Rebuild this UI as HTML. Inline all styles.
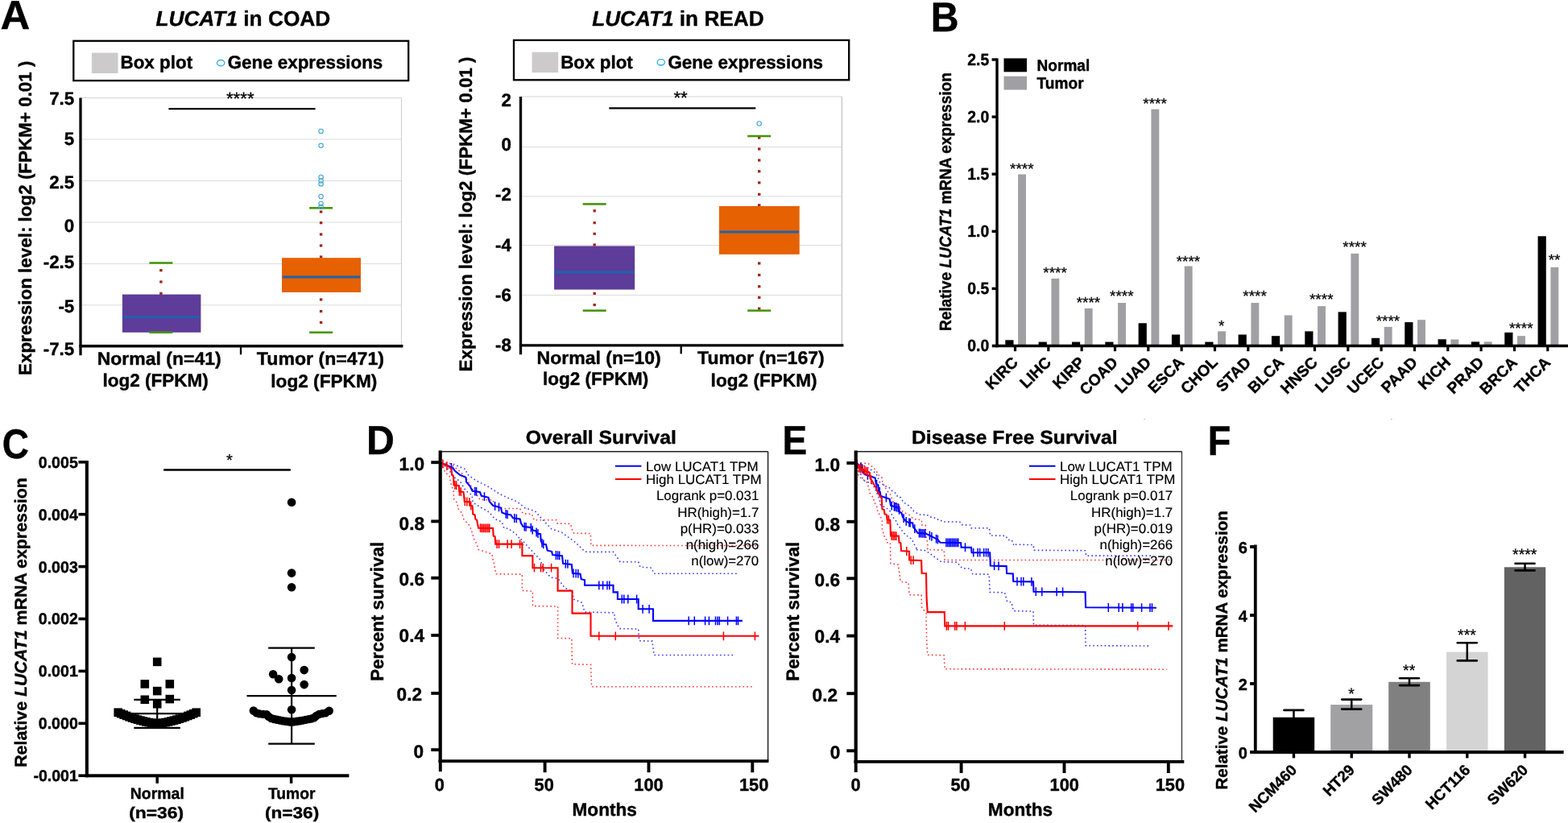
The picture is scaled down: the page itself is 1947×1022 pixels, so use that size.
<!DOCTYPE html>
<html lang="en">
<head>
<meta charset="utf-8">
<title>LUCAT1 expression figure</title>
<style>
html,body{margin:0;padding:0;background:#fff;}
body{width:1947px;height:1022px;overflow:hidden;}
svg{display:block;font-family:'Liberation Sans', sans-serif;}
text{white-space:pre;text-rendering:geometricPrecision;}
</style>
</head>
<body>
<svg role="img" aria-label="LUCAT1 expression and survival figure, panels A to F" width="1947" height="1022" viewBox="0 0 1947 1022">
<rect width="1947" height="1022" fill="#fff"/>
<text x="0.53" y="36.20" font-size="50.6" stroke="#000" stroke-width="0.4" stroke-linejoin="round" font-weight="bold" textLength="36.76" lengthAdjust="spacingAndGlyphs">A</text>
<g aria-label="LUCAT1 in COAD">
<text x="193.40" y="32.30" font-size="26.3" stroke="#000" stroke-width="0.4" stroke-linejoin="round" font-weight="bold" textLength="216.90" lengthAdjust="spacingAndGlyphs"><tspan font-style="italic">LUCAT1</tspan> in COAD</text>
<rect x="91.30" y="50.80" width="415.90" height="49.30" fill="#fff" stroke="#000" stroke-width="2.3"/>
<rect x="113.90" y="65.60" width="32.60" height="25.40" fill="#cccacb"/>
<text x="149.50" y="85.40" font-size="22.6" stroke="#000" stroke-width="0.4" stroke-linejoin="round" font-weight="bold" textLength="89.60" lengthAdjust="spacingAndGlyphs">Box plot</text>
<ellipse cx="274.10" cy="78.20" rx="4.7" ry="3.7" fill="none" stroke="#2bb0ee" stroke-width="1.3"/>
<text x="282.70" y="85.40" font-size="22.6" stroke="#000" stroke-width="0.4" stroke-linejoin="round" font-weight="bold" textLength="192.60" lengthAdjust="spacingAndGlyphs">Gene expressions</text>
<line x1="100.00" y1="173.00" x2="498.40" y2="173.00" stroke="#dcdcdc" stroke-width="1"/>
<line x1="100.00" y1="224.50" x2="498.40" y2="224.50" stroke="#dcdcdc" stroke-width="1"/>
<line x1="100.00" y1="276.00" x2="498.40" y2="276.00" stroke="#dcdcdc" stroke-width="1"/>
<line x1="100.00" y1="327.60" x2="498.40" y2="327.60" stroke="#dcdcdc" stroke-width="1"/>
<line x1="100.00" y1="378.90" x2="498.40" y2="378.90" stroke="#dcdcdc" stroke-width="1"/>
<line x1="498.40" y1="121.50" x2="498.40" y2="429.80" stroke="#cbccd3" stroke-width="1.0"/>
<line x1="100.00" y1="121.50" x2="498.40" y2="121.50" stroke="#d4d4d4" stroke-width="1"/>
<rect x="198.20" y="334.10" width="3.40" height="3.20" fill="#a42412"/>
<rect x="198.20" y="348.40" width="3.40" height="3.20" fill="#a42412"/>
<rect x="198.20" y="362.80" width="3.40" height="3.20" fill="#a42412"/>
<rect x="151.90" y="365.60" width="97.50" height="47.20" fill="#5e3c99"/>
<line x1="152.70" y1="393.80" x2="248.60" y2="393.80" stroke="#1c64ae" stroke-width="2.8"/>
<line x1="185.40" y1="326.50" x2="214.40" y2="326.50" stroke="#479509" stroke-width="2.6"/>
<line x1="185.40" y1="412.80" x2="214.40" y2="412.80" stroke="#479509" stroke-width="2.6"/>
<rect x="396.90" y="261.40" width="3.40" height="3.20" fill="#a42412"/>
<rect x="396.90" y="275.10" width="3.40" height="3.20" fill="#a42412"/>
<rect x="396.90" y="289.40" width="3.40" height="3.20" fill="#a42412"/>
<rect x="396.90" y="303.40" width="3.40" height="3.20" fill="#a42412"/>
<rect x="396.90" y="317.40" width="3.40" height="3.20" fill="#a42412"/>
<rect x="396.90" y="370.40" width="3.40" height="3.20" fill="#a42412"/>
<rect x="396.90" y="385.00" width="3.40" height="3.20" fill="#a42412"/>
<rect x="396.90" y="398.80" width="3.40" height="3.20" fill="#a42412"/>
<rect x="350.00" y="320.20" width="98.00" height="42.80" fill="#e66101"/>
<line x1="350.80" y1="344.00" x2="447.20" y2="344.00" stroke="#1c64ae" stroke-width="2.8"/>
<line x1="384.10" y1="258.30" x2="413.10" y2="258.30" stroke="#479509" stroke-width="2.6"/>
<line x1="384.10" y1="412.80" x2="413.10" y2="412.80" stroke="#479509" stroke-width="2.6"/>
<circle cx="398.60" cy="162.90" r="2.7" fill="none" stroke="#3fa4d6" stroke-width="1.1"/>
<circle cx="398.60" cy="180.80" r="2.7" fill="none" stroke="#3fa4d6" stroke-width="1.1"/>
<circle cx="398.60" cy="220.00" r="2.7" fill="none" stroke="#3fa4d6" stroke-width="1.1"/>
<circle cx="398.60" cy="224.50" r="2.7" fill="none" stroke="#3fa4d6" stroke-width="1.1"/>
<circle cx="398.60" cy="228.40" r="2.7" fill="none" stroke="#3fa4d6" stroke-width="1.1"/>
<circle cx="398.60" cy="243.90" r="2.7" fill="none" stroke="#3fa4d6" stroke-width="1.1"/>
<circle cx="398.60" cy="253.00" r="2.7" fill="none" stroke="#3fa4d6" stroke-width="1.1"/>
<circle cx="398.60" cy="256.80" r="2.7" fill="none" stroke="#3fa4d6" stroke-width="1.1"/>
<line x1="100.00" y1="121.50" x2="100.00" y2="441.20" stroke="#000" stroke-width="3.3"/>
<line x1="98.40" y1="429.80" x2="500.40" y2="429.80" stroke="#000" stroke-width="3.4"/>
<line x1="299.00" y1="429.80" x2="299.00" y2="440.30" stroke="#000" stroke-width="2.3"/>
<text x="92.30" y="130.40" font-size="22.4" stroke="#000" stroke-width="0.4" stroke-linejoin="round" font-weight="bold" text-anchor="end">7.5</text>
<text x="92.30" y="180.40" font-size="22.4" stroke="#000" stroke-width="0.4" stroke-linejoin="round" font-weight="bold" text-anchor="end">5</text>
<text x="92.30" y="234.00" font-size="22.4" stroke="#000" stroke-width="0.4" stroke-linejoin="round" font-weight="bold" text-anchor="end">2.5</text>
<text x="92.30" y="287.60" font-size="22.4" stroke="#000" stroke-width="0.4" stroke-linejoin="round" font-weight="bold" text-anchor="end">0</text>
<text x="92.30" y="332.50" font-size="22.4" stroke="#000" stroke-width="0.4" stroke-linejoin="round" font-weight="bold" text-anchor="end">-2.5</text>
<text x="92.30" y="388.30" font-size="22.4" stroke="#000" stroke-width="0.4" stroke-linejoin="round" font-weight="bold" text-anchor="end">-5</text>
<text x="92.30" y="440.90" font-size="22.4" stroke="#000" stroke-width="0.4" stroke-linejoin="round" font-weight="bold" text-anchor="end">-7.5</text>
<line x1="209.40" y1="135.20" x2="391.50" y2="135.20" stroke="#000" stroke-width="2.2"/>
<text x="298.25" y="129.50" font-size="22.3" stroke="#000" stroke-width="0.3" stroke-linejoin="round" text-anchor="middle">****</text>
<text x="39.30" y="466.00" font-size="22.4" stroke="#000" stroke-width="0.4" stroke-linejoin="round" font-weight="bold" transform="rotate(-90 39.30 466.00)" textLength="390.50" lengthAdjust="spacingAndGlyphs">Expression level: log2 (FPKM+ 0.01 )</text>
<text x="120.71" y="453.10" font-size="22.5" stroke="#000" stroke-width="0.4" stroke-linejoin="round" font-weight="bold" textLength="153.96" lengthAdjust="spacingAndGlyphs">Normal (n=41)</text>
<text x="127.42" y="479.80" font-size="22.5" stroke="#000" stroke-width="0.4" stroke-linejoin="round" font-weight="bold" textLength="131.45" lengthAdjust="spacingAndGlyphs">log2 (FPKM)</text>
<text x="318.87" y="452.80" font-size="22.5" stroke="#000" stroke-width="0.4" stroke-linejoin="round" font-weight="bold" textLength="158.16" lengthAdjust="spacingAndGlyphs">Tumor (n=471)</text>
<text x="336.32" y="481.00" font-size="22.5" stroke="#000" stroke-width="0.4" stroke-linejoin="round" font-weight="bold" textLength="131.96" lengthAdjust="spacingAndGlyphs">log2 (FPKM)</text>
</g>
<g aria-label="LUCAT1 in READ">
<text x="735.20" y="32.30" font-size="26.3" stroke="#000" stroke-width="0.4" stroke-linejoin="round" font-weight="bold" textLength="213.40" lengthAdjust="spacingAndGlyphs"><tspan font-style="italic">LUCAT1</tspan> in READ</text>
<rect x="638.00" y="49.90" width="416.20" height="49.40" fill="#fff" stroke="#000" stroke-width="2.3"/>
<rect x="660.60" y="64.70" width="32.60" height="25.40" fill="#cccacb"/>
<text x="696.20" y="84.50" font-size="22.6" stroke="#000" stroke-width="0.4" stroke-linejoin="round" font-weight="bold" textLength="89.60" lengthAdjust="spacingAndGlyphs">Box plot</text>
<ellipse cx="820.80" cy="77.30" rx="4.7" ry="3.7" fill="none" stroke="#2bb0ee" stroke-width="1.3"/>
<text x="829.40" y="84.50" font-size="22.6" stroke="#000" stroke-width="0.4" stroke-linejoin="round" font-weight="bold" textLength="192.60" lengthAdjust="spacingAndGlyphs">Gene expressions</text>
<line x1="646.50" y1="182.60" x2="1045.40" y2="182.60" stroke="#dcdcdc" stroke-width="1"/>
<line x1="646.50" y1="243.90" x2="1045.40" y2="243.90" stroke="#dcdcdc" stroke-width="1"/>
<line x1="646.50" y1="304.60" x2="1045.40" y2="304.60" stroke="#dcdcdc" stroke-width="1"/>
<line x1="646.50" y1="366.50" x2="1045.40" y2="366.50" stroke="#dcdcdc" stroke-width="1"/>
<line x1="1045.40" y1="120.00" x2="1045.40" y2="428.90" stroke="#cbccd3" stroke-width="1.6"/>
<line x1="646.50" y1="120.00" x2="1045.40" y2="120.00" stroke="#d4d4d4" stroke-width="1"/>
<rect x="736.50" y="260.20" width="3.40" height="3.20" fill="#a42412"/>
<rect x="736.50" y="275.10" width="3.40" height="3.20" fill="#a42412"/>
<rect x="736.50" y="288.70" width="3.40" height="3.20" fill="#a42412"/>
<rect x="736.50" y="302.40" width="3.40" height="3.20" fill="#a42412"/>
<rect x="736.50" y="362.90" width="3.40" height="3.20" fill="#a42412"/>
<rect x="736.50" y="377.00" width="3.40" height="3.20" fill="#a42412"/>
<rect x="688.10" y="305.50" width="100.10" height="54.10" fill="#5e3c99"/>
<line x1="688.90" y1="338.00" x2="787.40" y2="338.00" stroke="#1c64ae" stroke-width="2.8"/>
<line x1="723.70" y1="253.40" x2="752.70" y2="253.40" stroke="#479509" stroke-width="2.6"/>
<line x1="723.70" y1="385.70" x2="752.70" y2="385.70" stroke="#479509" stroke-width="2.6"/>
<rect x="941.00" y="169.40" width="3.40" height="3.20" fill="#a42412"/>
<rect x="941.00" y="183.40" width="3.40" height="3.20" fill="#a42412"/>
<rect x="941.00" y="197.40" width="3.40" height="3.20" fill="#a42412"/>
<rect x="941.00" y="211.20" width="3.40" height="3.20" fill="#a42412"/>
<rect x="941.00" y="225.30" width="3.40" height="3.20" fill="#a42412"/>
<rect x="941.00" y="239.70" width="3.40" height="3.20" fill="#a42412"/>
<rect x="941.00" y="253.20" width="3.40" height="3.20" fill="#a42412"/>
<rect x="941.00" y="325.40" width="3.40" height="3.20" fill="#a42412"/>
<rect x="941.00" y="339.90" width="3.40" height="3.20" fill="#a42412"/>
<rect x="941.00" y="354.20" width="3.40" height="3.20" fill="#a42412"/>
<rect x="941.00" y="367.80" width="3.40" height="3.20" fill="#a42412"/>
<rect x="941.00" y="381.60" width="3.40" height="3.20" fill="#a42412"/>
<rect x="892.90" y="255.90" width="99.80" height="60.00" fill="#e66101"/>
<line x1="893.70" y1="288.00" x2="991.90" y2="288.00" stroke="#1c64ae" stroke-width="2.8"/>
<line x1="928.20" y1="169.00" x2="957.20" y2="169.00" stroke="#479509" stroke-width="2.6"/>
<line x1="928.20" y1="385.70" x2="957.20" y2="385.70" stroke="#479509" stroke-width="2.6"/>
<circle cx="942.70" cy="153.50" r="2.7" fill="none" stroke="#3fa4d6" stroke-width="1.1"/>
<line x1="646.50" y1="120.00" x2="646.50" y2="440.30" stroke="#000" stroke-width="3.3"/>
<line x1="644.90" y1="428.90" x2="1047.40" y2="428.90" stroke="#000" stroke-width="3.4"/>
<line x1="845.70" y1="428.90" x2="845.70" y2="439.40" stroke="#000" stroke-width="2.3"/>
<text x="635.00" y="131.80" font-size="22.4" stroke="#000" stroke-width="0.4" stroke-linejoin="round" font-weight="bold" text-anchor="end">2</text>
<text x="635.00" y="187.20" font-size="22.4" stroke="#000" stroke-width="0.4" stroke-linejoin="round" font-weight="bold" text-anchor="end">0</text>
<text x="635.00" y="248.80" font-size="22.4" stroke="#000" stroke-width="0.4" stroke-linejoin="round" font-weight="bold" text-anchor="end">-2</text>
<text x="635.00" y="311.90" font-size="22.4" stroke="#000" stroke-width="0.4" stroke-linejoin="round" font-weight="bold" text-anchor="end">-4</text>
<text x="635.00" y="373.50" font-size="22.4" stroke="#000" stroke-width="0.4" stroke-linejoin="round" font-weight="bold" text-anchor="end">-6</text>
<text x="635.00" y="436.00" font-size="22.4" stroke="#000" stroke-width="0.4" stroke-linejoin="round" font-weight="bold" text-anchor="end">-8</text>
<line x1="756.30" y1="134.40" x2="938.30" y2="134.40" stroke="#000" stroke-width="2.2"/>
<text x="845.10" y="128.70" font-size="22.3" stroke="#000" stroke-width="0.3" stroke-linejoin="round" text-anchor="middle">**</text>
<text x="586.50" y="461.40" font-size="22.4" stroke="#000" stroke-width="0.4" stroke-linejoin="round" font-weight="bold" transform="rotate(-90 586.50 461.40)" textLength="391.00" lengthAdjust="spacingAndGlyphs">Expression level: log2 (FPKM+ 0.01 )</text>
<text x="666.60" y="452.20" font-size="22.5" stroke="#000" stroke-width="0.4" stroke-linejoin="round" font-weight="bold" textLength="154.06" lengthAdjust="spacingAndGlyphs">Normal (n=10)</text>
<text x="673.92" y="478.40" font-size="22.5" stroke="#000" stroke-width="0.4" stroke-linejoin="round" font-weight="bold" textLength="131.45" lengthAdjust="spacingAndGlyphs">log2 (FPKM)</text>
<text x="866.07" y="451.80" font-size="22.5" stroke="#000" stroke-width="0.4" stroke-linejoin="round" font-weight="bold" textLength="157.66" lengthAdjust="spacingAndGlyphs">Tumor (n=167)</text>
<text x="882.62" y="480.10" font-size="22.5" stroke="#000" stroke-width="0.4" stroke-linejoin="round" font-weight="bold" textLength="131.96" lengthAdjust="spacingAndGlyphs">log2 (FPKM)</text>
</g>
<g aria-label="Panel B: relative LUCAT1 mRNA expression across cancers">
<text x="1155.77" y="38.60" font-size="51.5" stroke="#000" stroke-width="0.4" stroke-linejoin="round" font-weight="bold" textLength="34.81" lengthAdjust="spacingAndGlyphs">B</text>
<rect x="1246.50" y="72.40" width="28.50" height="16.90" fill="#000"/>
<rect x="1246.50" y="94.70" width="28.50" height="16.80" fill="#a09fa4"/>
<text x="1287.60" y="87.80" font-size="20" stroke="#000" stroke-width="0.4" stroke-linejoin="round" font-weight="bold" textLength="65.60" lengthAdjust="spacingAndGlyphs">Normal</text>
<text x="1287.60" y="109.60" font-size="20" stroke="#000" stroke-width="0.4" stroke-linejoin="round" font-weight="bold" textLength="58.00" lengthAdjust="spacingAndGlyphs">Tumor</text>
<rect x="1248.30" y="422.30" width="10.20" height="7.20" fill="#000"/>
<rect x="1264.10" y="216.50" width="9.90" height="213.00" fill="#a09fa4"/>
<line x1="1260.50" y1="429.50" x2="1260.50" y2="436.20" stroke="#000" stroke-width="3.2"/>
<text x="1268.80" y="215.50" font-size="19" stroke="#000" stroke-width="0.25" stroke-linejoin="round" text-anchor="middle">****</text>
<text x="1265.20" y="451.20" font-size="19.5" stroke="#000" stroke-width="0.4" stroke-linejoin="round" font-weight="bold" text-anchor="end" transform="rotate(-45 1265.20 451.20)">KIRC</text>
<rect x="1289.63" y="424.60" width="10.20" height="4.90" fill="#000"/>
<rect x="1305.43" y="345.90" width="9.90" height="83.60" fill="#a09fa4"/>
<line x1="1301.83" y1="429.50" x2="1301.83" y2="436.20" stroke="#000" stroke-width="3.2"/>
<text x="1310.13" y="344.60" font-size="19" stroke="#000" stroke-width="0.25" stroke-linejoin="round" text-anchor="middle">****</text>
<text x="1306.53" y="451.20" font-size="19.5" stroke="#000" stroke-width="0.4" stroke-linejoin="round" font-weight="bold" text-anchor="end" transform="rotate(-45 1306.53 451.20)">LIHC</text>
<rect x="1330.96" y="424.60" width="10.20" height="4.90" fill="#000"/>
<rect x="1346.76" y="382.90" width="9.90" height="46.60" fill="#a09fa4"/>
<line x1="1343.16" y1="429.50" x2="1343.16" y2="436.20" stroke="#000" stroke-width="3.2"/>
<text x="1351.46" y="382.20" font-size="19" stroke="#000" stroke-width="0.25" stroke-linejoin="round" text-anchor="middle">****</text>
<text x="1347.86" y="451.20" font-size="19.5" stroke="#000" stroke-width="0.4" stroke-linejoin="round" font-weight="bold" text-anchor="end" transform="rotate(-45 1347.86 451.20)">KIRP</text>
<rect x="1372.29" y="424.60" width="10.20" height="4.90" fill="#000"/>
<rect x="1388.09" y="376.10" width="9.90" height="53.40" fill="#a09fa4"/>
<line x1="1384.49" y1="429.50" x2="1384.49" y2="436.20" stroke="#000" stroke-width="3.2"/>
<text x="1392.79" y="374.40" font-size="19" stroke="#000" stroke-width="0.25" stroke-linejoin="round" text-anchor="middle">****</text>
<text x="1389.19" y="451.20" font-size="19.5" stroke="#000" stroke-width="0.4" stroke-linejoin="round" font-weight="bold" text-anchor="end" transform="rotate(-45 1389.19 451.20)">COAD</text>
<rect x="1413.62" y="401.30" width="10.20" height="28.20" fill="#000"/>
<rect x="1429.42" y="135.60" width="9.90" height="293.90" fill="#a09fa4"/>
<line x1="1425.82" y1="429.50" x2="1425.82" y2="436.20" stroke="#000" stroke-width="3.2"/>
<text x="1434.12" y="135.30" font-size="19" stroke="#000" stroke-width="0.25" stroke-linejoin="round" text-anchor="middle">****</text>
<text x="1430.52" y="451.20" font-size="19.5" stroke="#000" stroke-width="0.4" stroke-linejoin="round" font-weight="bold" text-anchor="end" transform="rotate(-45 1430.52 451.20)">LUAD</text>
<rect x="1454.95" y="415.50" width="10.20" height="14.00" fill="#000"/>
<rect x="1470.75" y="330.50" width="9.90" height="99.00" fill="#a09fa4"/>
<line x1="1467.15" y1="429.50" x2="1467.15" y2="436.20" stroke="#000" stroke-width="3.2"/>
<text x="1475.45" y="330.60" font-size="19" stroke="#000" stroke-width="0.25" stroke-linejoin="round" text-anchor="middle">****</text>
<text x="1471.85" y="451.20" font-size="19.5" stroke="#000" stroke-width="0.4" stroke-linejoin="round" font-weight="bold" text-anchor="end" transform="rotate(-45 1471.85 451.20)">ESCA</text>
<rect x="1496.28" y="424.60" width="10.20" height="4.90" fill="#000"/>
<rect x="1512.08" y="411.40" width="9.90" height="18.10" fill="#a09fa4"/>
<line x1="1508.48" y1="429.50" x2="1508.48" y2="436.20" stroke="#000" stroke-width="3.2"/>
<text x="1516.78" y="410.90" font-size="19" stroke="#000" stroke-width="0.25" stroke-linejoin="round" text-anchor="middle">*</text>
<text x="1513.18" y="451.20" font-size="19.5" stroke="#000" stroke-width="0.4" stroke-linejoin="round" font-weight="bold" text-anchor="end" transform="rotate(-45 1513.18 451.20)">CHOL</text>
<rect x="1537.61" y="415.50" width="10.20" height="14.00" fill="#000"/>
<rect x="1553.41" y="376.10" width="9.90" height="53.40" fill="#a09fa4"/>
<line x1="1549.81" y1="429.50" x2="1549.81" y2="436.20" stroke="#000" stroke-width="3.2"/>
<text x="1558.11" y="374.40" font-size="19" stroke="#000" stroke-width="0.25" stroke-linejoin="round" text-anchor="middle">****</text>
<text x="1554.51" y="451.20" font-size="19.5" stroke="#000" stroke-width="0.4" stroke-linejoin="round" font-weight="bold" text-anchor="end" transform="rotate(-45 1554.51 451.20)">STAD</text>
<rect x="1578.94" y="417.20" width="10.20" height="12.30" fill="#000"/>
<rect x="1594.74" y="391.50" width="9.90" height="38.00" fill="#a09fa4"/>
<line x1="1591.14" y1="429.50" x2="1591.14" y2="436.20" stroke="#000" stroke-width="3.2"/>
<text x="1595.84" y="451.20" font-size="19.5" stroke="#000" stroke-width="0.4" stroke-linejoin="round" font-weight="bold" text-anchor="end" transform="rotate(-45 1595.84 451.20)">BLCA</text>
<rect x="1620.27" y="411.40" width="10.20" height="18.10" fill="#000"/>
<rect x="1636.07" y="380.20" width="9.90" height="49.30" fill="#a09fa4"/>
<line x1="1632.47" y1="429.50" x2="1632.47" y2="436.20" stroke="#000" stroke-width="3.2"/>
<text x="1640.77" y="377.50" font-size="19" stroke="#000" stroke-width="0.25" stroke-linejoin="round" text-anchor="middle">****</text>
<text x="1637.17" y="451.20" font-size="19.5" stroke="#000" stroke-width="0.4" stroke-linejoin="round" font-weight="bold" text-anchor="end" transform="rotate(-45 1637.17 451.20)">HNSC</text>
<rect x="1661.60" y="387.40" width="10.20" height="42.10" fill="#000"/>
<rect x="1677.40" y="314.90" width="9.90" height="114.60" fill="#a09fa4"/>
<line x1="1673.80" y1="429.50" x2="1673.80" y2="436.20" stroke="#000" stroke-width="3.2"/>
<text x="1682.10" y="313.40" font-size="19" stroke="#000" stroke-width="0.25" stroke-linejoin="round" text-anchor="middle">****</text>
<text x="1678.50" y="451.20" font-size="19.5" stroke="#000" stroke-width="0.4" stroke-linejoin="round" font-weight="bold" text-anchor="end" transform="rotate(-45 1678.50 451.20)">LUSC</text>
<rect x="1702.93" y="419.80" width="10.20" height="9.70" fill="#000"/>
<rect x="1718.73" y="405.90" width="9.90" height="23.60" fill="#a09fa4"/>
<line x1="1715.13" y1="429.50" x2="1715.13" y2="436.20" stroke="#000" stroke-width="3.2"/>
<text x="1723.43" y="404.60" font-size="19" stroke="#000" stroke-width="0.25" stroke-linejoin="round" text-anchor="middle">****</text>
<text x="1719.83" y="451.20" font-size="19.5" stroke="#000" stroke-width="0.4" stroke-linejoin="round" font-weight="bold" text-anchor="end" transform="rotate(-45 1719.83 451.20)">UCEC</text>
<rect x="1744.26" y="400.10" width="10.20" height="29.40" fill="#000"/>
<rect x="1760.06" y="397.20" width="9.90" height="32.30" fill="#a09fa4"/>
<line x1="1756.46" y1="429.50" x2="1756.46" y2="436.20" stroke="#000" stroke-width="3.2"/>
<text x="1761.16" y="451.20" font-size="19.5" stroke="#000" stroke-width="0.4" stroke-linejoin="round" font-weight="bold" text-anchor="end" transform="rotate(-45 1761.16 451.20)">PAAD</text>
<rect x="1785.59" y="421.30" width="10.20" height="8.20" fill="#000"/>
<rect x="1801.39" y="421.50" width="9.90" height="8.00" fill="#a09fa4"/>
<line x1="1797.79" y1="429.50" x2="1797.79" y2="436.20" stroke="#000" stroke-width="3.2"/>
<text x="1802.49" y="451.20" font-size="19.5" stroke="#000" stroke-width="0.4" stroke-linejoin="round" font-weight="bold" text-anchor="end" transform="rotate(-45 1802.49 451.20)">KICH</text>
<rect x="1826.92" y="424.40" width="10.20" height="5.10" fill="#000"/>
<rect x="1842.72" y="424.40" width="9.90" height="5.10" fill="#a09fa4"/>
<line x1="1839.12" y1="429.50" x2="1839.12" y2="436.20" stroke="#000" stroke-width="3.2"/>
<text x="1843.82" y="451.20" font-size="19.5" stroke="#000" stroke-width="0.4" stroke-linejoin="round" font-weight="bold" text-anchor="end" transform="rotate(-45 1843.82 451.20)">PRAD</text>
<rect x="1868.25" y="412.90" width="10.20" height="16.60" fill="#000"/>
<rect x="1884.05" y="417.20" width="9.90" height="12.30" fill="#a09fa4"/>
<line x1="1880.45" y1="429.50" x2="1880.45" y2="436.20" stroke="#000" stroke-width="3.2"/>
<text x="1888.75" y="414.00" font-size="19" stroke="#000" stroke-width="0.25" stroke-linejoin="round" text-anchor="middle">****</text>
<text x="1885.15" y="451.20" font-size="19.5" stroke="#000" stroke-width="0.4" stroke-linejoin="round" font-weight="bold" text-anchor="end" transform="rotate(-45 1885.15 451.20)">BRCA</text>
<rect x="1909.58" y="293.30" width="10.20" height="136.20" fill="#000"/>
<rect x="1925.38" y="331.90" width="9.90" height="97.60" fill="#a09fa4"/>
<line x1="1921.78" y1="429.50" x2="1921.78" y2="436.20" stroke="#000" stroke-width="3.2"/>
<text x="1930.08" y="329.20" font-size="19" stroke="#000" stroke-width="0.25" stroke-linejoin="round" text-anchor="middle">**</text>
<text x="1926.48" y="451.20" font-size="19.5" stroke="#000" stroke-width="0.4" stroke-linejoin="round" font-weight="bold" text-anchor="end" transform="rotate(-45 1926.48 451.20)">THCA</text>
<line x1="1238.00" y1="72.60" x2="1238.00" y2="431.20" stroke="#000" stroke-width="3.4"/>
<line x1="1236.30" y1="429.50" x2="1947.00" y2="429.50" stroke="#000" stroke-width="3.6"/>
<line x1="1231.80" y1="429.50" x2="1238.00" y2="429.50" stroke="#000" stroke-width="3.6"/>
<text x="1228.30" y="436.30" font-size="20.6" stroke="#000" stroke-width="0.4" stroke-linejoin="round" font-weight="bold" text-anchor="end" textLength="27.00" lengthAdjust="spacingAndGlyphs">0.0</text>
<line x1="1231.60" y1="358.40" x2="1238.00" y2="358.40" stroke="#000" stroke-width="3.4"/>
<text x="1228.30" y="365.20" font-size="20.6" stroke="#000" stroke-width="0.4" stroke-linejoin="round" font-weight="bold" text-anchor="end" textLength="27.00" lengthAdjust="spacingAndGlyphs">0.5</text>
<line x1="1231.60" y1="287.30" x2="1238.00" y2="287.30" stroke="#000" stroke-width="3.4"/>
<text x="1228.30" y="294.10" font-size="20.6" stroke="#000" stroke-width="0.4" stroke-linejoin="round" font-weight="bold" text-anchor="end" textLength="27.00" lengthAdjust="spacingAndGlyphs">1.0</text>
<line x1="1231.60" y1="216.20" x2="1238.00" y2="216.20" stroke="#000" stroke-width="3.4"/>
<text x="1228.30" y="223.00" font-size="20.6" stroke="#000" stroke-width="0.4" stroke-linejoin="round" font-weight="bold" text-anchor="end" textLength="27.00" lengthAdjust="spacingAndGlyphs">1.5</text>
<line x1="1231.60" y1="145.10" x2="1238.00" y2="145.10" stroke="#000" stroke-width="3.4"/>
<text x="1228.30" y="151.90" font-size="20.6" stroke="#000" stroke-width="0.4" stroke-linejoin="round" font-weight="bold" text-anchor="end" textLength="27.00" lengthAdjust="spacingAndGlyphs">2.0</text>
<line x1="1231.60" y1="74.00" x2="1238.00" y2="74.00" stroke="#000" stroke-width="3.4"/>
<text x="1228.30" y="80.80" font-size="20.6" stroke="#000" stroke-width="0.4" stroke-linejoin="round" font-weight="bold" text-anchor="end" textLength="27.00" lengthAdjust="spacingAndGlyphs">2.5</text>
<text x="1180.60" y="411.10" font-size="20.5" stroke="#000" stroke-width="0.4" stroke-linejoin="round" font-weight="bold" transform="rotate(-90 1180.60 411.10)" textLength="321.00" lengthAdjust="spacingAndGlyphs">Relative <tspan font-style="italic">LUCAT1</tspan> mRNA expression</text>
<rect x="1420.30" y="520.05" width="1.60" height="0.70" fill="#9a9a9a"/>
<rect x="1597.60" y="490.05" width="1.60" height="0.70" fill="#9a9a9a"/>
<rect x="1727.00" y="520.05" width="1.60" height="0.70" fill="#9a9a9a"/>
</g>
<g aria-label="Panel C: relative LUCAT1 mRNA expression in normal and tumor tissue">
<text x="2.86" y="568.90" font-size="51.5" stroke="#000" stroke-width="0.4" stroke-linejoin="round" font-weight="bold" textLength="33.19" lengthAdjust="spacingAndGlyphs">C</text>
<line x1="204.20" y1="583.60" x2="359.80" y2="583.60" stroke="#000" stroke-width="2.5" stroke-linecap="round"/>
<text x="284.80" y="578.00" font-size="20" stroke="#000" stroke-width="0.3" stroke-linejoin="round" text-anchor="middle">*</text>
<line x1="195.20" y1="868.80" x2="195.20" y2="903.80" stroke="#000" stroke-width="2.2"/>
<line x1="166.30" y1="868.80" x2="223.80" y2="868.80" stroke="#000" stroke-width="2.2"/>
<line x1="166.30" y1="903.80" x2="223.80" y2="903.80" stroke="#000" stroke-width="2.2"/>
<line x1="152.00" y1="886.10" x2="238.50" y2="886.10" stroke="#000" stroke-width="2.2"/>
<rect x="189.90" y="816.60" width="10.60" height="10.60" fill="#000"/>
<rect x="174.50" y="844.10" width="10.60" height="10.60" fill="#000"/>
<rect x="205.50" y="844.10" width="10.60" height="10.60" fill="#000"/>
<rect x="189.90" y="852.80" width="10.60" height="10.60" fill="#000"/>
<rect x="174.50" y="863.50" width="10.60" height="10.60" fill="#000"/>
<rect x="205.50" y="862.80" width="10.60" height="10.60" fill="#000"/>
<rect x="189.90" y="868.90" width="10.60" height="10.60" fill="#000"/>
<rect x="141.40" y="879.40" width="10.60" height="10.60" fill="#000"/>
<rect x="144.86" y="880.88" width="10.60" height="10.60" fill="#000"/>
<rect x="148.33" y="882.29" width="10.60" height="10.60" fill="#000"/>
<rect x="151.79" y="883.64" width="10.60" height="10.60" fill="#000"/>
<rect x="155.26" y="884.93" width="10.60" height="10.60" fill="#000"/>
<rect x="158.72" y="886.14" width="10.60" height="10.60" fill="#000"/>
<rect x="162.19" y="887.29" width="10.60" height="10.60" fill="#000"/>
<rect x="165.65" y="888.36" width="10.60" height="10.60" fill="#000"/>
<rect x="169.11" y="889.34" width="10.60" height="10.60" fill="#000"/>
<rect x="172.58" y="890.24" width="10.60" height="10.60" fill="#000"/>
<rect x="176.04" y="891.05" width="10.60" height="10.60" fill="#000"/>
<rect x="179.51" y="891.75" width="10.60" height="10.60" fill="#000"/>
<rect x="182.97" y="892.33" width="10.60" height="10.60" fill="#000"/>
<rect x="186.44" y="892.77" width="10.60" height="10.60" fill="#000"/>
<rect x="189.90" y="893.00" width="10.60" height="10.60" fill="#000"/>
<rect x="193.36" y="892.77" width="10.60" height="10.60" fill="#000"/>
<rect x="196.83" y="892.33" width="10.60" height="10.60" fill="#000"/>
<rect x="200.29" y="891.75" width="10.60" height="10.60" fill="#000"/>
<rect x="203.76" y="891.05" width="10.60" height="10.60" fill="#000"/>
<rect x="207.22" y="890.24" width="10.60" height="10.60" fill="#000"/>
<rect x="210.69" y="889.34" width="10.60" height="10.60" fill="#000"/>
<rect x="214.15" y="888.36" width="10.60" height="10.60" fill="#000"/>
<rect x="217.61" y="887.29" width="10.60" height="10.60" fill="#000"/>
<rect x="221.08" y="886.14" width="10.60" height="10.60" fill="#000"/>
<rect x="224.54" y="884.93" width="10.60" height="10.60" fill="#000"/>
<rect x="228.01" y="883.64" width="10.60" height="10.60" fill="#000"/>
<rect x="231.47" y="882.29" width="10.60" height="10.60" fill="#000"/>
<rect x="234.94" y="880.88" width="10.60" height="10.60" fill="#000"/>
<rect x="238.40" y="879.40" width="10.60" height="10.60" fill="#000"/>
<line x1="362.10" y1="804.60" x2="362.10" y2="923.70" stroke="#000" stroke-width="2.2"/>
<line x1="333.20" y1="804.60" x2="390.80" y2="804.60" stroke="#000" stroke-width="2.2"/>
<line x1="333.20" y1="923.70" x2="390.80" y2="923.70" stroke="#000" stroke-width="2.2"/>
<line x1="306.50" y1="864.10" x2="417.70" y2="864.10" stroke="#000" stroke-width="2.2"/>
<circle cx="362.10" cy="623.70" r="5.3" fill="#000"/>
<circle cx="362.10" cy="711.60" r="5.3" fill="#000"/>
<circle cx="362.10" cy="729.30" r="5.3" fill="#000"/>
<circle cx="362.10" cy="816.00" r="5.3" fill="#000"/>
<circle cx="339.10" cy="837.30" r="5.3" fill="#000"/>
<circle cx="346.20" cy="843.20" r="5.3" fill="#000"/>
<circle cx="362.10" cy="842.00" r="5.3" fill="#000"/>
<circle cx="377.70" cy="832.10" r="5.3" fill="#000"/>
<circle cx="377.70" cy="850.10" r="5.3" fill="#000"/>
<circle cx="362.10" cy="857.00" r="5.3" fill="#000"/>
<circle cx="362.10" cy="881.30" r="5.3" fill="#000"/>
<circle cx="314.81" cy="882.46" r="5.2" fill="#000"/>
<circle cx="318.48" cy="885.39" r="5.2" fill="#000"/>
<circle cx="322.15" cy="886.42" r="5.2" fill="#000"/>
<circle cx="326.55" cy="886.86" r="5.2" fill="#000"/>
<circle cx="330.96" cy="887.30" r="5.2" fill="#000"/>
<circle cx="333.45" cy="889.79" r="5.2" fill="#000"/>
<circle cx="336.83" cy="892.00" r="5.2" fill="#000"/>
<circle cx="340.49" cy="893.02" r="5.2" fill="#000"/>
<circle cx="344.16" cy="893.76" r="5.2" fill="#000"/>
<circle cx="347.83" cy="894.49" r="5.2" fill="#000"/>
<circle cx="351.50" cy="895.22" r="5.2" fill="#000"/>
<circle cx="355.17" cy="895.81" r="5.2" fill="#000"/>
<circle cx="358.84" cy="896.25" r="5.2" fill="#000"/>
<circle cx="361.77" cy="896.55" r="5.2" fill="#000"/>
<circle cx="364.71" cy="896.25" r="5.2" fill="#000"/>
<circle cx="368.38" cy="895.81" r="5.2" fill="#000"/>
<circle cx="372.05" cy="895.22" r="5.2" fill="#000"/>
<circle cx="375.72" cy="894.64" r="5.2" fill="#000"/>
<circle cx="379.39" cy="893.90" r="5.2" fill="#000"/>
<circle cx="383.05" cy="893.17" r="5.2" fill="#000"/>
<circle cx="386.72" cy="892.44" r="5.2" fill="#000"/>
<circle cx="390.10" cy="891.26" r="5.2" fill="#000"/>
<circle cx="392.59" cy="889.06" r="5.2" fill="#000"/>
<circle cx="396.26" cy="886.86" r="5.2" fill="#000"/>
<circle cx="399.93" cy="886.13" r="5.2" fill="#000"/>
<circle cx="404.33" cy="885.39" r="5.2" fill="#000"/>
<circle cx="408.74" cy="882.75" r="5.2" fill="#000"/>
<line x1="107.85" y1="572.00" x2="107.85" y2="965.20" stroke="#000" stroke-width="4.1"/>
<line x1="105.95" y1="963.30" x2="433.40" y2="963.30" stroke="#000" stroke-width="3.9"/>
<line x1="97.45" y1="963.20" x2="107.85" y2="963.20" stroke="#000" stroke-width="3.6"/>
<text x="96.80" y="970.10" font-size="19.8" stroke="#000" stroke-width="0.4" stroke-linejoin="round" font-weight="bold" text-anchor="end" textLength="55.40" lengthAdjust="spacingAndGlyphs">-0.001</text>
<line x1="97.45" y1="898.30" x2="107.85" y2="898.30" stroke="#000" stroke-width="3.6"/>
<text x="96.80" y="905.20" font-size="19.8" stroke="#000" stroke-width="0.4" stroke-linejoin="round" font-weight="bold" text-anchor="end" textLength="49.00" lengthAdjust="spacingAndGlyphs">0.000</text>
<line x1="97.45" y1="833.40" x2="107.85" y2="833.40" stroke="#000" stroke-width="3.6"/>
<text x="96.80" y="840.30" font-size="19.8" stroke="#000" stroke-width="0.4" stroke-linejoin="round" font-weight="bold" text-anchor="end" textLength="49.00" lengthAdjust="spacingAndGlyphs">0.001</text>
<line x1="97.45" y1="768.50" x2="107.85" y2="768.50" stroke="#000" stroke-width="3.6"/>
<text x="96.80" y="775.40" font-size="19.8" stroke="#000" stroke-width="0.4" stroke-linejoin="round" font-weight="bold" text-anchor="end" textLength="49.00" lengthAdjust="spacingAndGlyphs">0.002</text>
<line x1="97.45" y1="703.60" x2="107.85" y2="703.60" stroke="#000" stroke-width="3.6"/>
<text x="96.80" y="710.50" font-size="19.8" stroke="#000" stroke-width="0.4" stroke-linejoin="round" font-weight="bold" text-anchor="end" textLength="49.00" lengthAdjust="spacingAndGlyphs">0.003</text>
<line x1="97.45" y1="638.70" x2="107.85" y2="638.70" stroke="#000" stroke-width="3.6"/>
<text x="96.80" y="645.60" font-size="19.8" stroke="#000" stroke-width="0.4" stroke-linejoin="round" font-weight="bold" text-anchor="end" textLength="49.00" lengthAdjust="spacingAndGlyphs">0.004</text>
<line x1="97.45" y1="573.80" x2="107.85" y2="573.80" stroke="#000" stroke-width="3.6"/>
<text x="96.80" y="580.70" font-size="19.8" stroke="#000" stroke-width="0.4" stroke-linejoin="round" font-weight="bold" text-anchor="end" textLength="49.00" lengthAdjust="spacingAndGlyphs">0.005</text>
<line x1="195.20" y1="963.30" x2="195.20" y2="972.80" stroke="#000" stroke-width="3.5"/>
<line x1="361.60" y1="963.30" x2="361.60" y2="972.80" stroke="#000" stroke-width="3.5"/>
<text x="161.80" y="992.00" font-size="19.8" stroke="#000" stroke-width="0.4" stroke-linejoin="round" font-weight="bold" textLength="67.00" lengthAdjust="spacingAndGlyphs">Normal</text>
<text x="160.20" y="1016.30" font-size="19.8" stroke="#000" stroke-width="0.4" stroke-linejoin="round" font-weight="bold" textLength="67.90" lengthAdjust="spacingAndGlyphs">(n=36)</text>
<text x="333.00" y="992.00" font-size="19.8" stroke="#000" stroke-width="0.4" stroke-linejoin="round" font-weight="bold" textLength="58.40" lengthAdjust="spacingAndGlyphs">Tumor</text>
<text x="329.00" y="1016.30" font-size="19.8" stroke="#000" stroke-width="0.4" stroke-linejoin="round" font-weight="bold" textLength="67.20" lengthAdjust="spacingAndGlyphs">(n=36)</text>
<text x="33.40" y="952.80" font-size="21" stroke="#000" stroke-width="0.4" stroke-linejoin="round" font-weight="bold" transform="rotate(-90 33.40 952.80)" textLength="359.60" lengthAdjust="spacingAndGlyphs">Relative <tspan font-style="italic">LUCAT1</tspan> mRNA expression</text>
</g>
<g aria-label="Panel D: Overall Survival">
<text x="454.96" y="564.00" font-size="50.6" stroke="#000" stroke-width="0.4" stroke-linejoin="round" font-weight="bold" textLength="34.88" lengthAdjust="spacingAndGlyphs">D</text>
<text x="652.81" y="550.60" font-size="23.2" stroke="#000" stroke-width="0.4" stroke-linejoin="round" font-weight="bold" textLength="187.15" lengthAdjust="spacingAndGlyphs">Overall Survival</text>
<line x1="546.70" y1="560.80" x2="953.60" y2="560.80" stroke="#222" stroke-width="1.5"/>
<line x1="953.60" y1="560.80" x2="953.60" y2="945.10" stroke="#222" stroke-width="1.5"/>
<path d="M548.5,574.9 L562.4,576.2 L578.5,583.0 L579.8,588.6 L591.0,596.7 L605.9,604.1 L619.5,612.8 L629.5,617.8 L641.9,622.8 L651.9,630.8 L664.3,634.6 L674.2,645.8 L684.8,656.9 L697.8,661.3 L714.0,673.1 L726.4,684.9 L729.2,685.4 L761.5,685.4 L770.1,697.7 L792.7,697.7 L794.9,704.1 L808.9,705.2 L812.1,712.3 L915.5,712.3" fill="none" stroke="#3838ff" stroke-width="1.6" stroke-linejoin="miter" stroke-dasharray="1.6 3.2"/>
<path d="M548.5,574.9 L557.4,583.6 L566.1,594.8 L571.1,597.3 L578.5,609.7 L586.0,614.7 L587.2,624.0 L597.2,630.2 L607.1,635.8 L614.6,644.5 L623.3,648.2 L625.8,655.7 L631.3,656.3 L640.7,663.2 L645.6,669.4 L646.3,668.6 L656.0,679.4 L671.1,695.5 L674.3,706.3 L684.0,717.1 L692.6,718.1 L701.2,730.0 L710.9,734.3 L712.0,744.0 L722.7,748.3 L726.0,760.1 L762.6,760.8 L763.7,769.8 L769.0,780.6 L792.7,781.0 L793.8,795.7 L809.9,796.1 L812.1,813.5 L913.3,813.5" fill="none" stroke="#3838ff" stroke-width="1.6" stroke-linejoin="miter" stroke-dasharray="1.6 3.2"/>
<path d="M548.5,574.9 L558.6,575.5 L567.3,582.4 L576.0,589.8 L581.0,597.3 L588.5,609.7 L595.9,620.3 L612.1,620.9 L614.6,628.4 L627.0,631.5 L645.6,631.5 L649.4,637.7 L660.6,638.3 L663.0,645.8 L691.0,645.8 L692.2,650.1 L708.4,650.4 L710.9,659.4 L712.8,662.2 L733.3,662.5 L733.9,677.4 L942.4,677.5" fill="none" stroke="#ff3838" stroke-width="1.6" stroke-linejoin="miter" stroke-dasharray="1.6 3.2"/>
<path d="M548.5,574.9 L552.4,586.1 L558.0,591.1 L560.5,602.3 L563.0,609.1 L563.6,619.7 L568.0,624.6 L568.6,631.5 L573.6,637.1 L576.0,645.1 L583.5,653.2 L586.6,662.5 L588.5,669.4 L592.2,675.6 L594.1,682.4 L610.8,688.0 L616.1,712.8 L648.4,713.2 L648.4,733.2 L661.4,734.3 L661.4,752.6 L692.6,753.0 L692.6,792.4 L709.8,792.9 L710.5,824.7 L733.5,825.4 L734.6,852.7 L934.8,852.7" fill="none" stroke="#ff3838" stroke-width="1.6" stroke-linejoin="miter" stroke-dasharray="1.6 3.2"/>
<path d="M548.5,574.9 L562.4,581.1 L564.9,584.9 L571.1,589.8 L578.5,592.9 L579.1,598.5 L583.5,603.5 L586.6,609.7 L595.9,611.0 L597.8,615.9 L606.5,617.8 L607.7,622.8 L612.1,627.7 L617.1,629.0 L622.0,630.8 L623.3,636.4 L627.6,638.3 L634.5,639.5 L636.9,643.3 L645.6,644.5 L646.9,649.5 L649.4,653.8 L659.3,655.1 L661.2,658.2 L665.5,659.4 L666.8,662.5 L671.1,663.2 L671.7,671.9 L673.6,675.6 L678.0,676.2 L679.7,683.7 L685.1,684.8 L686.1,689.1 L698.0,690.1 L699.1,699.8 L709.8,700.9 L710.9,711.7 L720.6,712.8 L721.7,719.2 L726.0,720.3 L726.0,726.8 L761.5,726.8 L761.5,735.4 L766.9,735.4 L766.9,744.0 L792.7,744.0 L792.7,756.3 L811.0,756.3 L811.0,770.9 L921.9,770.9" fill="none" stroke="#0000ff" stroke-width="2.1" stroke-linejoin="miter"/>
<path d="M560.5,574.9V585.7M589.7,604.7V615.5M591.6,605.0V615.8M601.5,611.3V622.1M614.6,623.0V633.8M619.5,624.5V635.3M628.2,633.0V643.8M630.1,633.4V644.2M638.8,638.1V648.9M641.3,638.5V649.3M651.2,648.7V659.5M653.1,648.9V659.7M659.3,649.7V660.5M661.2,652.8V663.6M666.1,655.6V666.4M668.0,657.3V668.1M673.0,668.9V679.7M674.8,670.4V681.2M690.4,684.1V694.9M692.6,684.3V695.1M694.7,684.5V695.3M702.3,694.8V705.6M704.9,695.0V705.8M712.0,706.4V717.2M715.2,706.8V717.6M717.8,707.0V717.8M743.8,721.4V732.2M748.6,721.4V732.2M754.0,721.4V732.2M756.8,721.4V732.2M772.3,738.6V749.4M774.8,738.6V749.4M779.8,738.6V749.4M790.6,738.6V749.4M798.1,750.9V761.7M806.1,750.9V761.7M855.2,765.5V776.3M862.3,765.5V776.3M875.6,765.5V776.3M880.4,765.5V776.3M888.5,765.5V776.3M891.1,765.5V776.3M893.3,765.5V776.3M903.6,765.5V776.3M914.4,765.5V776.3M916.5,765.5V776.3" fill="none" stroke="#0000ff" stroke-width="1.5"/>
<path d="M548.5,574.9 L552.4,577.4 L557.4,579.9 L560.5,582.4 L561.1,589.8 L563.0,591.1 L563.6,602.3 L569.8,602.9 L570.4,610.3 L575.4,611.0 L576.0,614.7 L576.7,622.8 L583.5,623.4 L584.1,627.7 L586.6,628.4 L587.2,638.3 L589.7,639.5 L590.3,644.5 L592.2,645.8 L592.8,649.5 L594.1,655.7 L612.1,655.9 L612.7,665.6 L614.6,666.3 L615.2,675.6 L648.7,675.6 L648.4,675.1 L648.4,690.1 L661.4,690.1 L661.4,705.2 L692.6,705.2 L692.6,733.6 L710.5,733.6 L710.5,761.6 L733.5,761.6 L733.5,789.8 L942.4,789.8" fill="none" stroke="#ff0000" stroke-width="2.1" stroke-linejoin="miter"/>
<path d="M549.9,570.4V581.2M554.9,573.2V584.0M564.9,597.0V607.8M566.7,597.2V608.0M570.4,604.9V615.7M572.3,605.2V616.0M577.3,617.4V628.2M579.8,617.6V628.4M582.9,617.9V628.7M584.7,622.5V633.3M596.5,650.3V661.1M598.4,650.4V661.2M600.3,650.4V661.2M602.1,650.4V661.2M604.0,650.4V661.2M605.9,650.5V661.3M607.7,650.5V661.3M617.1,670.2V681.0M619.5,670.2V681.0M630.1,670.2V681.0M635.1,670.2V681.0M645.6,670.2V681.0M663.5,699.8V710.6M671.5,699.8V710.6M674.3,699.8V710.6M684.6,699.8V710.6M743.8,784.4V795.2M764.3,784.4V795.2M898.4,784.4V795.2M937.4,784.4V795.2" fill="none" stroke="#ff0000" stroke-width="1.5"/>
<line x1="763.90" y1="578.80" x2="796.40" y2="578.80" stroke="#0000ff" stroke-width="2.0"/>
<line x1="763.90" y1="595.00" x2="796.40" y2="595.00" stroke="#ff0000" stroke-width="2.0"/>
<text x="802.12" y="584.60" font-size="16.6" stroke="#000" stroke-width="0.15" stroke-linejoin="round" textLength="139.62" lengthAdjust="spacingAndGlyphs">Low LUCAT1 TPM</text>
<text x="802.12" y="600.80" font-size="16.6" stroke="#000" stroke-width="0.15" stroke-linejoin="round" textLength="143.47" lengthAdjust="spacingAndGlyphs">High LUCAT1 TPM</text>
<text x="814.92" y="621.40" font-size="16.6" stroke="#000" stroke-width="0.15" stroke-linejoin="round" textLength="127.44" lengthAdjust="spacingAndGlyphs">Logrank p=0.031</text>
<text x="841.22" y="641.60" font-size="16.6" stroke="#000" stroke-width="0.15" stroke-linejoin="round" textLength="101.16" lengthAdjust="spacingAndGlyphs">HR(high)=1.7</text>
<text x="844.67" y="661.60" font-size="16.6" stroke="#000" stroke-width="0.15" stroke-linejoin="round" textLength="97.67" lengthAdjust="spacingAndGlyphs">p(HR)=0.033</text>
<text x="851.68" y="681.50" font-size="16.6" stroke="#000" stroke-width="0.15" stroke-linejoin="round" textLength="90.62" lengthAdjust="spacingAndGlyphs">n(high)=266</text>
<text x="858.38" y="701.70" font-size="16.6" stroke="#000" stroke-width="0.15" stroke-linejoin="round" textLength="83.82" lengthAdjust="spacingAndGlyphs">n(low)=270</text>
<line x1="546.70" y1="559.60" x2="546.70" y2="947.00" stroke="#000" stroke-width="4.2"/>
<line x1="544.60" y1="945.10" x2="954.40" y2="945.10" stroke="#000" stroke-width="3.8"/>
<line x1="535.30" y1="574.20" x2="546.70" y2="574.20" stroke="#000" stroke-width="3.9"/>
<text x="527.00" y="583.90" font-size="22.6" stroke="#000" stroke-width="0.4" stroke-linejoin="round" font-weight="bold" text-anchor="end">1.0</text>
<line x1="535.30" y1="647.40" x2="546.70" y2="647.40" stroke="#000" stroke-width="3.9"/>
<text x="527.00" y="658.20" font-size="22.6" stroke="#000" stroke-width="0.4" stroke-linejoin="round" font-weight="bold" text-anchor="end">0.8</text>
<line x1="535.30" y1="717.70" x2="546.70" y2="717.70" stroke="#000" stroke-width="3.9"/>
<text x="527.00" y="726.80" font-size="22.6" stroke="#000" stroke-width="0.4" stroke-linejoin="round" font-weight="bold" text-anchor="end">0.6</text>
<line x1="535.30" y1="788.90" x2="546.70" y2="788.90" stroke="#000" stroke-width="3.9"/>
<text x="527.00" y="797.00" font-size="22.6" stroke="#000" stroke-width="0.4" stroke-linejoin="round" font-weight="bold" text-anchor="end">0.4</text>
<line x1="535.30" y1="860.90" x2="546.70" y2="860.90" stroke="#000" stroke-width="3.9"/>
<text x="524.00" y="870.30" font-size="22.6" stroke="#000" stroke-width="0.4" stroke-linejoin="round" font-weight="bold" text-anchor="end">0.2</text>
<line x1="535.30" y1="931.10" x2="546.70" y2="931.10" stroke="#000" stroke-width="3.9"/>
<text x="526.20" y="940.80" font-size="22.6" stroke="#000" stroke-width="0.4" stroke-linejoin="round" font-weight="bold" text-anchor="end">0</text>
<line x1="546.80" y1="945.10" x2="546.80" y2="958.20" stroke="#000" stroke-width="3.9"/>
<text x="545.70" y="981.80" font-size="21.8" stroke="#000" stroke-width="0.4" stroke-linejoin="round" font-weight="bold" text-anchor="middle">0</text>
<line x1="676.60" y1="945.10" x2="676.60" y2="959.20" stroke="#000" stroke-width="3.9"/>
<text x="675.70" y="981.80" font-size="21.8" stroke="#000" stroke-width="0.4" stroke-linejoin="round" font-weight="bold" text-anchor="middle">50</text>
<line x1="805.50" y1="945.10" x2="805.50" y2="959.20" stroke="#000" stroke-width="3.9"/>
<text x="805.50" y="981.80" font-size="21.8" stroke="#000" stroke-width="0.4" stroke-linejoin="round" font-weight="bold" text-anchor="middle">100</text>
<line x1="934.30" y1="945.10" x2="934.30" y2="959.20" stroke="#000" stroke-width="3.9"/>
<text x="936.20" y="981.80" font-size="21.8" stroke="#000" stroke-width="0.4" stroke-linejoin="round" font-weight="bold" text-anchor="middle">150</text>
<text x="750.70" y="1012.90" font-size="22.6" stroke="#000" stroke-width="0.4" stroke-linejoin="round" font-weight="bold" text-anchor="middle">Months</text>
<text x="475.90" y="845.80" font-size="22.4" stroke="#000" stroke-width="0.4" stroke-linejoin="round" font-weight="bold" transform="rotate(-90 475.90 845.80)" textLength="173.00" lengthAdjust="spacingAndGlyphs">Percent survival</text>
</g>
<g aria-label="Panel E: Disease Free Survival">
<text x="971.41" y="564.00" font-size="50.6" stroke="#000" stroke-width="0.4" stroke-linejoin="round" font-weight="bold" textLength="30.70" lengthAdjust="spacingAndGlyphs">E</text>
<text x="1131.99" y="550.60" font-size="23.2" stroke="#000" stroke-width="0.4" stroke-linejoin="round" font-weight="bold" textLength="255.56" lengthAdjust="spacingAndGlyphs">Disease Free Survival</text>
<line x1="1062.70" y1="560.80" x2="1467.50" y2="560.80" stroke="#222" stroke-width="1.5"/>
<line x1="1467.50" y1="560.80" x2="1467.50" y2="945.90" stroke="#222" stroke-width="1.1"/>
<path d="M1063.7,574.9 L1073.6,578.6 L1081.1,583.0 L1087.9,588.0 L1092.3,598.5 L1098.5,603.5 L1103.5,604.7 L1108.4,610.3 L1112.8,612.8 L1114.7,617.2 L1118.4,617.8 L1122.1,624.0 L1129.6,628.4 L1134.5,634.6 L1140.8,638.9 L1151.3,639.3 L1154.4,642.0 L1159.4,642.3 L1163.1,645.1 L1167.5,645.4 L1170.0,648.0 L1191.7,648.0 L1193.6,651.7 L1204.8,652.0 L1206.0,655.7 L1228.4,655.7 L1229.6,665.0 L1248.9,665.4 L1251.4,670.4 L1256.3,670.6 L1258.8,676.8 L1258.3,676.1 L1283.0,676.6 L1284.1,683.3 L1347.6,683.7 L1348.7,690.1 L1429.5,690.1" fill="none" stroke="#3838ff" stroke-width="1.6" stroke-linejoin="miter" stroke-dasharray="1.6 3.2"/>
<path d="M1063.7,574.9 L1067.4,586.1 L1072.4,596.7 L1083.6,601.0 L1087.3,608.5 L1089.8,614.7 L1092.3,620.9 L1093.5,627.1 L1102.8,632.1 L1106.0,635.8 L1108.4,642.0 L1112.2,645.8 L1113.4,649.5 L1119.6,658.2 L1124.6,664.4 L1132.1,669.4 L1135.8,676.8 L1139.5,683.7 L1138.8,682.6 L1149.5,683.7 L1168.9,697.7 L1188.3,698.1 L1194.7,705.7 L1205.5,706.1 L1207.7,712.8 L1228.1,713.2 L1229.2,735.4 L1247.5,735.8 L1250.7,747.2 L1256.1,747.9 L1258.3,758.6 L1283.0,759.1 L1283.5,776.3 L1347.6,776.7 L1348.1,801.7 L1428.4,802.1" fill="none" stroke="#3838ff" stroke-width="1.6" stroke-linejoin="miter" stroke-dasharray="1.6 3.2"/>
<path d="M1063.7,574.9 L1072.4,575.2 L1078.0,575.5 L1083.6,579.9 L1087.3,583.6 L1091.0,589.8 L1094.8,592.3 L1095.4,596.7 L1097.9,603.5 L1102.8,611.0 L1105.3,613.4 L1109.7,624.6 L1115.9,625.2 L1118.4,633.3 L1125.2,637.7 L1128.9,639.5 L1134.5,644.5 L1144.5,645.8 L1144.7,652.0 L1149.2,652.2 L1149.5,663.2 L1151.3,671.9 L1151.9,676.8 L1151.6,682.4 L1151.7,682.6 L1172.1,683.0 L1173.2,695.5 L1453.1,695.5" fill="none" stroke="#ff3838" stroke-width="1.6" stroke-linejoin="miter" stroke-dasharray="1.6 3.2"/>
<path d="M1063.7,574.9 L1066.2,591.7 L1076.1,598.5 L1079.2,606.6 L1079.9,612.2 L1084.8,618.4 L1085.4,623.4 L1088.6,628.4 L1089.8,634.6 L1093.5,642.0 L1095.4,645.8 L1095.4,656.9 L1097.9,665.6 L1100.4,668.1 L1101.0,673.7 L1105.4,674.0 L1106.0,699.8 L1115.1,700.9 L1118.3,722.4 L1128.0,723.5 L1129.1,738.6 L1144.1,739.0 L1144.6,754.7 L1150.0,761.2 L1150.6,793.5 L1151.7,813.3 L1172.1,813.7 L1173.2,830.8 L1448.8,831.2" fill="none" stroke="#ff3838" stroke-width="1.6" stroke-linejoin="miter" stroke-dasharray="1.6 3.2"/>
<path d="M1063.7,574.9 L1071.2,582.4 L1073.6,589.2 L1079.9,591.1 L1086.7,593.6 L1087.9,601.0 L1090.4,602.3 L1091.0,609.7 L1092.9,611.0 L1093.5,615.9 L1099.1,617.8 L1104.7,619.7 L1106.0,627.7 L1110.3,629.0 L1115.9,630.8 L1117.1,635.8 L1119.6,637.1 L1120.9,642.0 L1124.6,647.0 L1128.3,648.9 L1133.3,649.5 L1133.9,654.5 L1137.0,658.2 L1139.5,661.9 L1149.5,662.5 L1153.2,664.4 L1156.9,666.3 L1160.6,668.1 L1164.4,670.0 L1167.5,673.7 L1193.0,674.0 L1193.6,679.6 L1206.0,679.9 L1206.6,686.1 L1229.2,686.3 L1229.8,702.6 L1249.7,703.1 L1250.1,712.1 L1257.8,712.5 L1258.3,722.0 L1283.0,722.4 L1283.5,734.7 L1347.6,735.2 L1348.1,754.3 L1435.9,754.7" fill="none" stroke="#0000ff" stroke-width="2.1" stroke-linejoin="miter"/>
<path d="M1068.7,574.5V585.3M1070.5,576.3V587.1M1077.4,584.9V595.7M1088.6,595.9V606.7M1092.3,605.1V615.9M1100.4,612.8V623.6M1107.2,622.7V633.5M1110.3,623.6V634.4M1111.5,624.0V634.8M1113.4,624.6V635.4M1115.3,625.2V636.0M1116.5,627.9V638.7M1122.1,638.3V649.1M1125.2,641.9V652.7M1128.9,643.5V654.3M1130.2,643.7V654.5M1135.8,651.3V662.1M1141.4,656.6V667.4M1143.2,656.7V667.5M1145.1,656.9V667.7M1147.0,657.0V667.8M1148.8,657.1V667.9M1154.4,659.6V670.4M1156.9,660.9V671.7M1162.5,663.7V674.5M1164.4,664.6V675.4M1174.9,668.4V679.2M1176.8,668.4V679.2M1178.7,668.4V679.2M1180.5,668.4V679.2M1182.4,668.5V679.3M1184.3,668.5V679.3M1186.1,668.5V679.3M1188.0,668.5V679.3M1189.8,668.5V679.3M1198.5,674.3V685.1M1208.7,680.8V691.6M1214.1,680.8V691.6M1216.7,680.8V691.6M1221.7,680.8V691.6M1224.5,680.8V691.6M1227.0,680.9V691.7M1234.6,697.3V708.1M1240.0,697.5V708.3M1263.0,716.7V727.5M1268.0,716.8V727.6M1270.8,716.8V727.6M1280.9,717.0V727.8M1286.3,729.3V740.1M1293.8,729.4V740.2M1312.1,729.5V740.3M1319.6,729.6V740.4M1376.3,749.1V759.9M1389.2,749.1V759.9M1393.9,749.1V759.9M1404.7,749.2V760.0M1406.8,749.2V760.0M1417.6,749.3V760.1M1428.0,749.3V760.1M1430.5,749.3V760.1" fill="none" stroke="#0000ff" stroke-width="1.5"/>
<path d="M1063.7,574.9 L1066.2,581.1 L1071.2,583.0 L1074.9,584.9 L1079.9,586.7 L1080.5,594.2 L1083.0,597.3 L1084.8,601.0 L1087.3,604.7 L1089.2,609.7 L1091.0,612.8 L1092.9,616.5 L1094.8,618.4 L1095.4,632.1 L1097.9,633.3 L1098.5,638.3 L1101.0,639.5 L1101.6,645.1 L1105.3,645.8 L1106.0,665.4 L1115.9,665.6 L1116.5,673.7 L1118.4,674.3 L1119.0,684.0 L1129.1,684.8 L1129.1,695.5 L1144.1,696.0 L1144.6,711.7 L1150.0,712.1 L1150.6,742.9 L1151.7,760.1 L1172.8,760.1 L1173.2,777.4 L1456.4,777.4" fill="none" stroke="#ff0000" stroke-width="2.1" stroke-linejoin="miter"/>
<path d="M1064.3,571.1V581.9M1066.8,576.0V586.8M1068.7,576.7V587.5M1071.2,577.6V588.4M1073.6,578.8V589.6M1075.5,579.7V590.5M1077.4,580.4V591.2M1081.7,590.3V601.1M1101.6,639.7V650.5M1103.5,640.0V650.8M1107.2,660.0V670.8M1109.1,660.1V670.9M1110.9,660.1V670.9M1112.8,660.2V671.0M1125.8,679.1V689.9M1131.2,690.2V701.0M1134.0,690.3V701.1M1175.4,772.0V782.8M1177.5,772.0V782.8M1185.7,772.0V782.8M1187.9,772.0V782.8M1198.4,772.0V782.8M1247.3,772.0V782.8M1412.7,772.0V782.8M1451.0,772.0V782.8" fill="none" stroke="#ff0000" stroke-width="1.5"/>
<line x1="1278.00" y1="578.80" x2="1310.50" y2="578.80" stroke="#0000ff" stroke-width="2.0"/>
<line x1="1278.00" y1="595.00" x2="1310.50" y2="595.00" stroke="#ff0000" stroke-width="2.0"/>
<text x="1316.02" y="584.60" font-size="16.6" stroke="#000" stroke-width="0.15" stroke-linejoin="round" textLength="139.62" lengthAdjust="spacingAndGlyphs">Low LUCAT1 TPM</text>
<text x="1316.02" y="600.80" font-size="16.6" stroke="#000" stroke-width="0.15" stroke-linejoin="round" textLength="143.47" lengthAdjust="spacingAndGlyphs">High LUCAT1 TPM</text>
<text x="1328.82" y="621.40" font-size="16.6" stroke="#000" stroke-width="0.15" stroke-linejoin="round" textLength="127.44" lengthAdjust="spacingAndGlyphs">Logrank p=0.017</text>
<text x="1355.12" y="641.60" font-size="16.6" stroke="#000" stroke-width="0.15" stroke-linejoin="round" textLength="101.16" lengthAdjust="spacingAndGlyphs">HR(high)=1.7</text>
<text x="1358.57" y="661.60" font-size="16.6" stroke="#000" stroke-width="0.15" stroke-linejoin="round" textLength="97.67" lengthAdjust="spacingAndGlyphs">p(HR)=0.019</text>
<text x="1365.58" y="681.50" font-size="16.6" stroke="#000" stroke-width="0.15" stroke-linejoin="round" textLength="90.62" lengthAdjust="spacingAndGlyphs">n(high)=266</text>
<text x="1372.28" y="701.70" font-size="16.6" stroke="#000" stroke-width="0.15" stroke-linejoin="round" textLength="83.82" lengthAdjust="spacingAndGlyphs">n(low)=270</text>
<line x1="1062.70" y1="559.60" x2="1062.70" y2="947.80" stroke="#000" stroke-width="4.2"/>
<line x1="1060.60" y1="945.90" x2="1470.30" y2="945.90" stroke="#000" stroke-width="3.8"/>
<line x1="1051.30" y1="575.00" x2="1062.70" y2="575.00" stroke="#000" stroke-width="3.9"/>
<text x="1043.00" y="585.00" font-size="22.6" stroke="#000" stroke-width="0.4" stroke-linejoin="round" font-weight="bold" text-anchor="end">1.0</text>
<line x1="1051.30" y1="647.80" x2="1062.70" y2="647.80" stroke="#000" stroke-width="3.9"/>
<text x="1043.00" y="659.00" font-size="22.6" stroke="#000" stroke-width="0.4" stroke-linejoin="round" font-weight="bold" text-anchor="end">0.8</text>
<line x1="1051.30" y1="718.30" x2="1062.70" y2="718.30" stroke="#000" stroke-width="3.9"/>
<text x="1043.00" y="727.50" font-size="22.6" stroke="#000" stroke-width="0.4" stroke-linejoin="round" font-weight="bold" text-anchor="end">0.6</text>
<line x1="1051.30" y1="789.60" x2="1062.70" y2="789.60" stroke="#000" stroke-width="3.9"/>
<text x="1043.00" y="797.80" font-size="22.6" stroke="#000" stroke-width="0.4" stroke-linejoin="round" font-weight="bold" text-anchor="end">0.4</text>
<line x1="1051.30" y1="861.20" x2="1062.70" y2="861.20" stroke="#000" stroke-width="3.9"/>
<text x="1040.00" y="871.00" font-size="22.6" stroke="#000" stroke-width="0.4" stroke-linejoin="round" font-weight="bold" text-anchor="end">0.2</text>
<line x1="1051.30" y1="932.30" x2="1062.70" y2="932.30" stroke="#000" stroke-width="3.9"/>
<text x="1043.40" y="942.00" font-size="22.6" stroke="#000" stroke-width="0.4" stroke-linejoin="round" font-weight="bold" text-anchor="end">0</text>
<line x1="1062.70" y1="945.90" x2="1062.70" y2="959.00" stroke="#000" stroke-width="3.9"/>
<text x="1062.50" y="982.30" font-size="21.8" stroke="#000" stroke-width="0.4" stroke-linejoin="round" font-weight="bold" text-anchor="middle">0</text>
<line x1="1193.60" y1="945.90" x2="1193.60" y2="960.00" stroke="#000" stroke-width="3.9"/>
<text x="1192.60" y="982.30" font-size="21.8" stroke="#000" stroke-width="0.4" stroke-linejoin="round" font-weight="bold" text-anchor="middle">50</text>
<line x1="1321.50" y1="945.90" x2="1321.50" y2="960.00" stroke="#000" stroke-width="3.9"/>
<text x="1321.80" y="982.30" font-size="21.8" stroke="#000" stroke-width="0.4" stroke-linejoin="round" font-weight="bold" text-anchor="middle">100</text>
<line x1="1450.80" y1="945.90" x2="1450.80" y2="960.00" stroke="#000" stroke-width="3.9"/>
<text x="1452.90" y="982.30" font-size="21.8" stroke="#000" stroke-width="0.4" stroke-linejoin="round" font-weight="bold" text-anchor="middle">150</text>
<text x="1267.00" y="1012.90" font-size="22.6" stroke="#000" stroke-width="0.4" stroke-linejoin="round" font-weight="bold" text-anchor="middle">Months</text>
<text x="992.00" y="845.80" font-size="22.4" stroke="#000" stroke-width="0.4" stroke-linejoin="round" font-weight="bold" transform="rotate(-90 992.00 845.80)" textLength="173.00" lengthAdjust="spacingAndGlyphs">Percent survival</text>
</g>
<g aria-label="Panel F: relative LUCAT1 mRNA expression in cell lines">
<text x="1499.85" y="564.70" font-size="51.5" stroke="#000" stroke-width="0.4" stroke-linejoin="round" font-weight="bold" textLength="28.63" lengthAdjust="spacingAndGlyphs">F</text>
<rect x="1580.70" y="890.80" width="51.50" height="43.20" fill="#000000"/>
<line x1="1594.45" y1="881.90" x2="1618.45" y2="881.90" stroke="#000" stroke-width="2.6" stroke-linecap="round"/>
<line x1="1606.45" y1="881.90" x2="1606.45" y2="891.80" stroke="#000" stroke-width="2.5"/>
<line x1="1606.45" y1="934.00" x2="1606.45" y2="941.40" stroke="#000" stroke-width="3.4"/>
<text x="1611.35" y="957.20" font-size="18.9" stroke="#000" stroke-width="0.4" stroke-linejoin="round" font-weight="bold" text-anchor="end" transform="rotate(-45 1611.35 957.20)">NCM460</text>
<rect x="1652.20" y="875.10" width="52.10" height="58.90" fill="#a1a1a4"/>
<line x1="1666.25" y1="868.60" x2="1690.25" y2="868.60" stroke="#000" stroke-width="2.6" stroke-linecap="round"/>
<line x1="1666.25" y1="880.60" x2="1690.25" y2="880.60" stroke="#000" stroke-width="2.6" stroke-linecap="round"/>
<line x1="1678.25" y1="868.60" x2="1678.25" y2="880.60" stroke="#000" stroke-width="2.5"/>
<line x1="1678.25" y1="934.00" x2="1678.25" y2="941.40" stroke="#000" stroke-width="3.4"/>
<text x="1677.95" y="868.15" font-size="19.5" stroke="#000" stroke-width="0.25" stroke-linejoin="round" text-anchor="middle">*</text>
<text x="1683.15" y="957.20" font-size="18.9" stroke="#000" stroke-width="0.4" stroke-linejoin="round" font-weight="bold" text-anchor="end" transform="rotate(-45 1683.15 957.20)">HT29</text>
<rect x="1724.20" y="846.80" width="51.60" height="87.20" fill="#808080"/>
<line x1="1738.00" y1="842.20" x2="1762.00" y2="842.20" stroke="#000" stroke-width="2.6" stroke-linecap="round"/>
<line x1="1738.00" y1="851.10" x2="1762.00" y2="851.10" stroke="#000" stroke-width="2.6" stroke-linecap="round"/>
<line x1="1750.00" y1="842.20" x2="1750.00" y2="851.10" stroke="#000" stroke-width="2.5"/>
<line x1="1750.00" y1="934.00" x2="1750.00" y2="941.40" stroke="#000" stroke-width="3.4"/>
<text x="1749.70" y="839.35" font-size="19.5" stroke="#000" stroke-width="0.25" stroke-linejoin="round" text-anchor="middle">**</text>
<text x="1754.90" y="957.20" font-size="18.9" stroke="#000" stroke-width="0.4" stroke-linejoin="round" font-weight="bold" text-anchor="end" transform="rotate(-45 1754.90 957.20)">SW480</text>
<rect x="1796.10" y="809.60" width="51.40" height="124.40" fill="#d4d4d4"/>
<line x1="1809.80" y1="798.30" x2="1833.80" y2="798.30" stroke="#000" stroke-width="2.6" stroke-linecap="round"/>
<line x1="1809.80" y1="820.40" x2="1833.80" y2="820.40" stroke="#000" stroke-width="2.6" stroke-linecap="round"/>
<line x1="1821.80" y1="798.30" x2="1821.80" y2="820.40" stroke="#000" stroke-width="2.5"/>
<line x1="1821.80" y1="934.00" x2="1821.80" y2="941.40" stroke="#000" stroke-width="3.4"/>
<text x="1821.50" y="795.25" font-size="19.5" stroke="#000" stroke-width="0.25" stroke-linejoin="round" text-anchor="middle">***</text>
<text x="1826.70" y="957.20" font-size="18.9" stroke="#000" stroke-width="0.4" stroke-linejoin="round" font-weight="bold" text-anchor="end" transform="rotate(-45 1826.70 957.20)">HCT116</text>
<rect x="1867.90" y="704.30" width="51.30" height="229.70" fill="#626262"/>
<line x1="1881.55" y1="699.70" x2="1905.55" y2="699.70" stroke="#000" stroke-width="2.6" stroke-linecap="round"/>
<line x1="1881.55" y1="708.40" x2="1905.55" y2="708.40" stroke="#000" stroke-width="2.6" stroke-linecap="round"/>
<line x1="1893.55" y1="699.70" x2="1893.55" y2="708.40" stroke="#000" stroke-width="2.5"/>
<line x1="1893.55" y1="934.00" x2="1893.55" y2="941.40" stroke="#000" stroke-width="3.4"/>
<text x="1893.25" y="695.45" font-size="19.5" stroke="#000" stroke-width="0.25" stroke-linejoin="round" text-anchor="middle">****</text>
<text x="1898.45" y="957.20" font-size="18.9" stroke="#000" stroke-width="0.4" stroke-linejoin="round" font-weight="bold" text-anchor="end" transform="rotate(-45 1898.45 957.20)">SW620</text>
<line x1="1558.80" y1="676.60" x2="1558.80" y2="935.90" stroke="#000" stroke-width="3.8"/>
<line x1="1556.90" y1="934.00" x2="1941.60" y2="934.00" stroke="#000" stroke-width="3.9"/>
<line x1="1552.10" y1="934.00" x2="1558.80" y2="934.00" stroke="#000" stroke-width="3.9"/>
<text x="1548.80" y="941.60" font-size="20" stroke="#000" stroke-width="0.4" stroke-linejoin="round" font-weight="bold" text-anchor="end">0</text>
<line x1="1552.10" y1="849.00" x2="1558.80" y2="849.00" stroke="#000" stroke-width="3.9"/>
<text x="1548.80" y="856.60" font-size="20" stroke="#000" stroke-width="0.4" stroke-linejoin="round" font-weight="bold" text-anchor="end">2</text>
<line x1="1552.10" y1="764.00" x2="1558.80" y2="764.00" stroke="#000" stroke-width="3.9"/>
<text x="1548.80" y="771.60" font-size="20" stroke="#000" stroke-width="0.4" stroke-linejoin="round" font-weight="bold" text-anchor="end">4</text>
<line x1="1552.10" y1="679.00" x2="1558.80" y2="679.00" stroke="#000" stroke-width="3.9"/>
<text x="1548.80" y="686.60" font-size="20" stroke="#000" stroke-width="0.4" stroke-linejoin="round" font-weight="bold" text-anchor="end">6</text>
<text x="1524.10" y="980.60" font-size="20.4" stroke="#000" stroke-width="0.4" stroke-linejoin="round" font-weight="bold" transform="rotate(-90 1524.10 980.60)" textLength="346.50" lengthAdjust="spacingAndGlyphs">Relative <tspan font-style="italic">LUCAT1</tspan> mRNA expression</text>
</g>
</svg>
</body>
</html>
